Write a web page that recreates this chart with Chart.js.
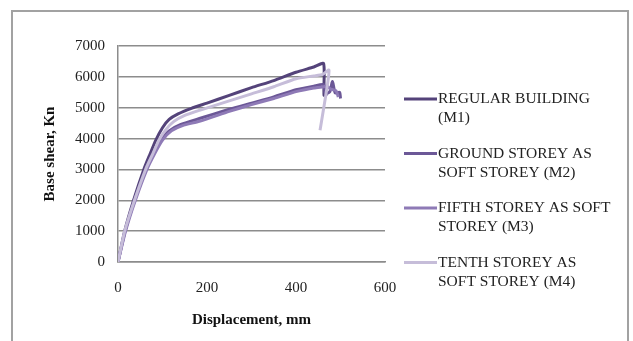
<!doctype html>
<html>
<head>
<meta charset="utf-8">
<script src="https://cdn.jsdelivr.net/npm/chart.js"></script>
<style>
  body { margin: 0; background: #fff; }
  #frame { position: absolute; left: 11px; top: 10px; width: 618px; height: 345px; border: 2px solid #a2a2a2; box-sizing: border-box; }
  #wrap { position: absolute; left: 0; top: 0; width: 633px; height: 341px; }
</style>
</head>
<body>
<div id="frame"></div>
<div id="wrap"><canvas id="chart"></canvas></div>
<script>
// displacement (mm) / base shear (kN)
const m1X = [0, 15, 35, 58, 72, 85, 100, 115, 135, 165, 200, 250, 300, 350, 400, 440, 462, 463, 470]
const m1Y = [0, 1000, 2000, 3000, 3500, 3950, 4350, 4620, 4800, 4980, 5150, 5400, 5650, 5880, 6150, 6320, 6430, 5400, 5450]

const m2X = [0, 16, 37, 62, 78, 95, 115, 140, 183, 250, 300, 350, 400, 440, 462, 466, 476, 482, 488, 498, 500]
const m2Y = [0, 1000, 2000, 3000, 3500, 3950, 4250, 4450, 4650, 4950, 5150, 5350, 5580, 5700, 5750, 5450, 5520, 5850, 5480, 5500, 5300]

const m3X = [0, 17, 39, 65, 82, 100, 120, 145, 183, 250, 300, 350, 400, 440, 462, 470, 478, 490, 495]
const m3Y = [0, 1000, 2000, 3000, 3500, 3950, 4250, 4420, 4560, 4880, 5100, 5300, 5520, 5640, 5680, 5700, 5600, 5550, 5350]

const m4X = [0, 15, 37, 62, 78, 92, 108, 125, 150, 183, 250, 300, 350, 400, 440, 460, 474, 468, 454]
const m4Y = [0, 1000, 2000, 3000, 3500, 3950, 4300, 4550, 4750, 4915, 5220, 5450, 5680, 5940, 6030, 6080, 6220, 5500, 4270]

const seriesLabels = [
  ['REGULAR BUILDING', '(M1)'],
  ['GROUND STOREY AS', 'SOFT STOREY (M2)'],
  ['FIFTH STOREY AS SOFT', 'STOREY (M3)'],
  ['TENTH STOREY AS', 'SOFT STOREY (M4)']
]
const seriesColors = ['#54437a', '#6c5897', '#8e7ab6', '#c6bdd9']

const xTicks = [0, 200, 400, 600]
const yTicks = [0, 1000, 2000, 3000, 4000, 5000, 6000, 7000]

const toPoints = (xs, ys) => xs.map((x, i) => ({ x: x, y: ys[i] }))
const allX = [m1X, m2X, m3X, m4X]
const allY = [m1Y, m2Y, m3Y, m4Y]

// draw in reverse so M1 ends up on top
const datasets = [3, 2, 1, 0].map((i) => ({
  label: seriesLabels[i].join(' '),
  data: toPoints(allX[i], allY[i]),
  borderColor: seriesColors[i],
  borderWidth: 3,
  pointRadius: 0,
  showLine: true,
  tension: 0.2,
  fill: false
}))

const serif = "'Liberation Serif', 'DejaVu Serif', serif"

const sideLegend = {
  id: 'sideLegend',
  afterDraw(chart) {
    const ctx = chart.ctx
    ctx.save()
    ctx.font = '15.5px ' + serif
    ctx.textBaseline = 'middle'
    ctx.textAlign = 'left'
    seriesLabels.forEach((lines, i) => {
      const y = 99 + i * 54.5
      ctx.strokeStyle = seriesColors[i]
      ctx.lineWidth = 3
      ctx.beginPath()
      ctx.moveTo(404, y)
      ctx.lineTo(437, y)
      ctx.stroke()
      ctx.fillStyle = '#222'
      lines.forEach((t, j) => ctx.fillText(t, 438, y + j * 19))
    })
    ctx.restore()
  }
}

new Chart(document.getElementById('chart'), {
  type: 'scatter',
  data: { datasets: datasets },
  options: {
    responsive: true,
    maintainAspectRatio: false,
    animation: false,
    layout: { padding: { left: 0, top: 46, right: 248, bottom: 8 } },
    plugins: { legend: { display: false }, tooltip: { enabled: false } },
    scales: {
      x: {
        type: 'linear',
        min: 0,
        max: 600,
        afterBuildTicks(scale) { scale.ticks = xTicks.map((v) => ({ value: v })) },
        afterFit(scale) { scale.height = 341 - 262 - 8 },
        grid: { display: false, drawTicks: false },
        border: { display: true, color: '#8c8c8c', width: 1.5 },
        ticks: { padding: 17, color: '#222', font: { family: serif, size: 15 }, callback: (v) => String(v) },
        title: {
          display: true,
          text: 'Displacement, mm',
          color: '#111',
          font: { family: serif, size: 15, weight: 'bold' },
          padding: { top: 0, bottom: 4 }
        }
      },
      y: {
        min: 0,
        max: 7000,
        afterBuildTicks(scale) { scale.ticks = yTicks.map((v) => ({ value: v })) },
        afterFit(scale) { scale.width = 118 },
        grid: { color: '#8c8c8c', lineWidth: 1.5, drawTicks: false },
        border: { display: true, color: '#8c8c8c', width: 1.5 },
        ticks: { padding: 13, color: '#222', font: { family: serif, size: 15 }, callback: (v) => String(v) },
        title: {
          display: true,
          text: 'Base shear, Kn',
          color: '#111',
          font: { family: serif, size: 15, weight: 'bold' },
          padding: { top: 41, bottom: 0 }
        }
      }
    }
  },
  plugins: [sideLegend]
})
</script>
</body>
</html>
